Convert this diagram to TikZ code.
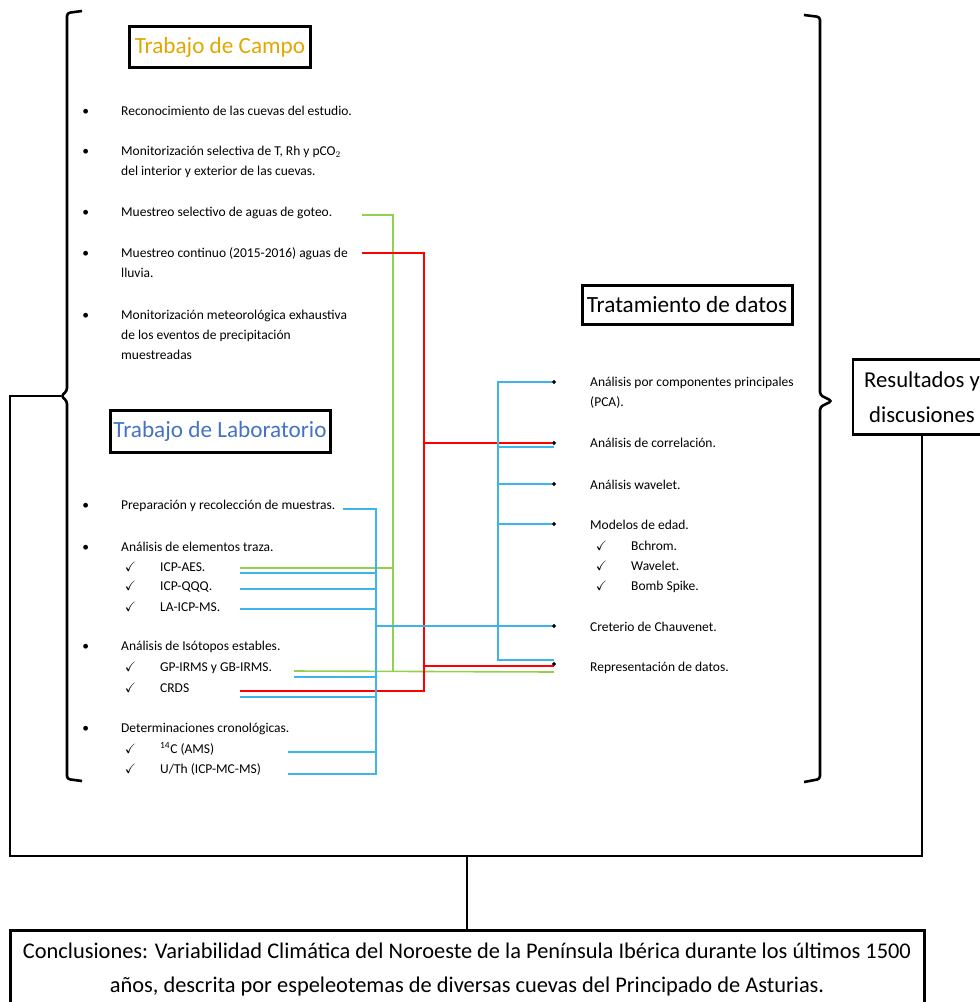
\documentclass[tikz,border=0pt]{standalone}
\usepackage{amssymb}
\usepackage{fontspec}
\setmainfont{Carlito}
\definecolor{Gold}{HTML}{E3A600}
\definecolor{Steel}{HTML}{4472C4}
\definecolor{Sky}{HTML}{3DB5EB}
\definecolor{Lime}{HTML}{92D050}
\definecolor{Scarlet}{HTML}{FF0000}
\newcommand\bul{\llap{\textbullet\hspace{32pt}}}
\newcommand\chk{\llap{$\checkmark$\hspace{24pt}}}

\begin{document}
\begin{tikzpicture}[x=1pt,y=-1pt,
    txt/.style={anchor=west,inner sep=0pt,align=left,font=\fontsize{13.5}{20}\selectfont},
    head/.style={draw,line width=3pt,inner sep=0pt,font=\fontsize{23.2}{26}\selectfont},
    brk/.style={line width=2.6pt,rounded corners=3pt},
    gl/.style={Lime,line width=1.6pt},
    rl/.style={Scarlet,line width=2.2pt},
    bl/.style={Sky,line width=1.6pt},
    dot/.style={circle,fill=black,inner sep=0pt,minimum size=3.6pt}
  ]
  \useasboundingbox (0,0) rectangle (980,1002);

  % field work
  \node[head,text=Gold,minimum width=181,minimum height=41] (campo) at (220,47) {Trabajo de Campo};
  \node[txt] (fc1) at (121,111) {\bul Reconocimiento de las cuevas del estudio.};
  \node[txt] (fc2) at (121,162) {\bul Monitorización selectiva de T, Rh y pCO$_2$\\del interior y exterior de las cuevas.};
  \node[txt] (fc3) at (121,213) {\bul Muestreo selectivo de aguas de goteo.};
  \node[txt] (fc4) at (121,263) {\bul Muestreo continuo (2015-2016) aguas de\\lluvia.};
  \node[txt] (fc5) at (121,335) {\bul Monitorización meteorológica exhaustiva\\de los eventos de precipitación\\muestreadas};

  % lab work
  \node[head,text=Steel,minimum width=220,minimum height=42] (lab) at (220,431) {Trabajo de Laboratorio};
  \node[txt] (lb1) at (121,506) {\bul Preparación y recolección de muestras.};
  \node[txt] (lb2) at (121,547) {\bul Análisis de elementos traza.};
  \node[txt] (lb2a) at (160,567) {\chk ICP-AES.};
  \node[txt] (lb2b) at (160,587) {\chk ICP-QQQ.};
  \node[txt] (lb2c) at (160,607) {\chk LA-ICP-MS.};
  \node[txt] (lb3) at (121,647) {\bul Análisis de Isótopos estables.};
  \node[txt] (lb3a) at (160,668) {\chk GP-IRMS y GB-IRMS.};
  \node[txt] (lb3b) at (160,688) {\chk CRDS};
  \node[txt] (lb4) at (121,729) {\bul Determinaciones cronológicas.};
  \node[txt] (lb4a) at (160,749) {\chk \textsuperscript{14}C (AMS)};
  \node[txt] (lb4b) at (160,769) {\chk U/Th (ICP-MC-MS)};

  % data treatment
  \node[head,minimum width=210,minimum height=39] (trat) at (687,305) {Tratamiento de datos};
  \node[txt] (td1) at (590,393) {Análisis por componentes principales\\(PCA).};
  \node[txt] (td2) at (590,443) {Análisis de correlación.};
  \node[txt] (td3) at (590,485) {Análisis wavelet.};
  \node[txt] (td4) at (590,525) {Modelos de edad.};
  \node[txt] (td4a) at (631,546) {\chk Bchrom.};
  \node[txt] (td4b) at (631,566) {\chk Wavelet.};
  \node[txt] (td4c) at (631,587) {\chk Bomb Spike.};
  \node[txt] (td5) at (590,627) {Creterio de Chauvenet.};
  \node[txt] (td6) at (590,668) {Representación de datos.};

  \node[head,line width=2.6pt,minimum width=138,minimum height=75,align=center,
    font=\fontsize{22.7}{35}\selectfont] (res) at (922,397) {Resultados y\\discusiones};
  \node[draw,line width=3pt,minimum width=914,minimum height=80,align=center,
    font=\fontsize{22.4}{34}\selectfont] (conc) at (467,970)
    {Conclusiones: Variabilidad Climática del Noroeste de la Península Ibérica durante los últimos 1500\\años, descrita por espeleotemas de diversas cuevas del Principado de Asturias.};

  % brackets and frame
  \draw[brk] (82,11) -- (67,13) -- (67,391) -- (61,396) -- (67,401) -- (67,779) -- (82,781);
  \draw[brk] (804,15) -- (820,17) -- (820,395) -- (832,401) -- (820,407) -- (820,779) -- (804,782);
  \coordinate (fb) at (10,856);
  \draw[line width=2.8pt] (61,396) -| (fb) -| (res.south);
  \draw[line width=1.4pt] (conc.north) -- (conc.north |- fb);

  % connector ends
  \coordinate (gt) at (393,0);
  \coordinate (rt) at (424,0);
  \coordinate (bt) at (376,0);
  \coordinate (bu) at (498,0);
  \coordinate (gGot) at (362,215);
  \coordinate (gAES) at (240,568);
  \coordinate (gIRMS) at (294,671);
  \coordinate (gRep) at (554,672);
  \coordinate (rLlu) at (362,253);
  \coordinate (rCRDS) at (240,691);
  \coordinate (rRep) at (554,666);
  \coordinate (bPrep) at (343,509);
  \coordinate (bAES) at (240,573);
  \coordinate (bQQQ) at (240,589);
  \coordinate (bLA) at (240,609);
  \coordinate (bIRMS) at (294,677);
  \coordinate (bCRDS) at (240,697);
  \coordinate (bC14) at (288,752);
  \coordinate (bUTh) at (288,774);
  \coordinate (bCor) at (554,447);
  \coordinate (bRep) at (554,660);

  \node[dot] (dPCA) at (554,382) {};
  \node[dot] (dCor) at (554,443) {};
  \node[dot] (dWav) at (554,484) {};
  \node[dot] (dEda) at (554,524) {};
  \node[dot] (dCha) at (554,626) {};
  \node[dot] (dRep) at (554,664) {};

  % green
  \draw[gl] (gGot) -| (gt |- gIRMS);
  \draw[gl] (gAES) -- (gt |- gAES);
  \draw[gl] (gIRMS) -- (gRep);
  % red
  \draw[rl] (rLlu) -| (rt |- rCRDS) -- (rCRDS);
  \draw[rl] (rt |- dCor) -- (dCor);
  \draw[rl] (rt |- rRep) -- (rRep);
  % blue, lab side
  \draw[bl] (bPrep) -| (bt |- bUTh) -- (bUTh);
  \foreach \p in {bAES,bQQQ,bLA,bIRMS,bCRDS,bC14}
    \draw[bl] (\p) -- (bt |- \p);
  \draw[bl] (bt |- dCha) -- (dCha);
  % blue, data side
  \draw[bl] (dPCA) -| (bu |- bRep) -- (bRep);
  \draw[bl] (bu |- bCor) -- (bCor);
  \draw[bl] (bu |- dWav) -- (dWav);
  \draw[bl] (bu |- dEda) -- (dEda);
  \foreach \d in {dPCA,dCor,dWav,dEda,dCha,dRep}
    \fill (\d) circle (1.8pt);
\end{tikzpicture}
\end{document}
